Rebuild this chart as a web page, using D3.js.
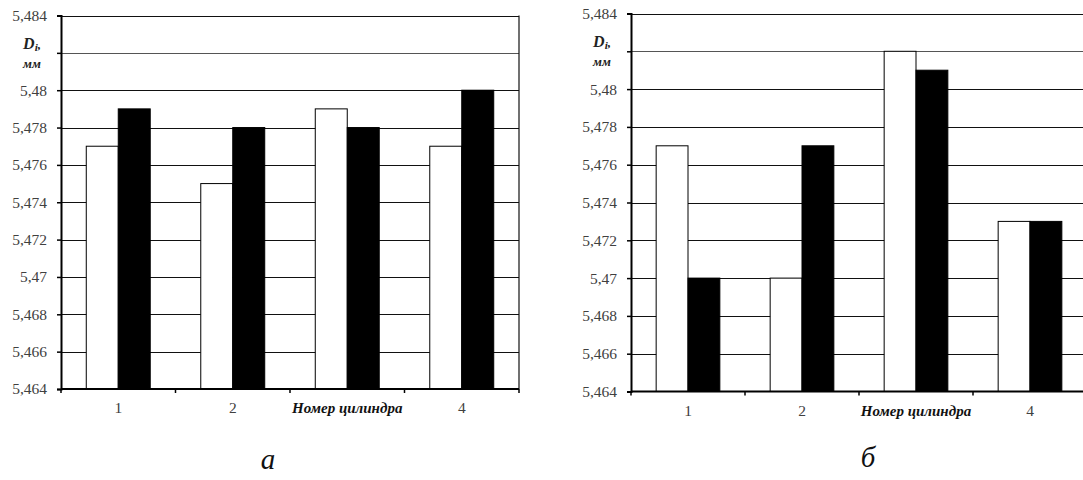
<!DOCTYPE html>
<html>
<head>
<meta charset="utf-8">
<script src="https://cdn.jsdelivr.net/npm/d3@7"></script>
<style>
  html, body { margin: 0; padding: 0; background: #fff; }
  svg { display: block; }
</style>
</head>
<body>
<svg id="chart" width="1083" height="480"></svg>
<script>
// Cylinder numbers (the 3rd slot carries the axis title instead of its number)
const cylinders = ["1", "2", "3", "4"];
const categoryLabels = ["1", "2", "Номер цилиндра", "4"];
const seriesNames = ["white", "black"];

// Panel а: diameter D_i, mm
const panelA_white = [5.477, 5.475, 5.479, 5.477];
const panelA_black = [5.479, 5.478, 5.478, 5.480];

// Panel б: diameter D_i, mm
const panelB_white = [5.477, 5.470, 5.482, 5.473];
const panelB_black = [5.470, 5.477, 5.481, 5.473];

// Y ticks (5,482 is replaced by the axis title)
const yTicks = [5.464, 5.466, 5.468, 5.470, 5.472, 5.474, 5.476, 5.478, 5.480, 5.482, 5.484];
const yTickLabels = ["5,464", "5,466", "5,468", "5,47", "5,472", "5,474", "5,476", "5,478", "5,48", "", "5,484"];
const yDomain = [5.464, 5.484];

const svg = d3.select("#chart");
const serif = "Liberation Serif, Times New Roman, serif";

function panel(opts) {
  const { x0, x1, yTop, yBot, white, black, caption, capX, capY, frameRight, labelOffset } = opts;
  const g = svg.append("g");

  const x = d3.scaleBand().domain(cylinders).range([x0, x1]).padding(0);
  const sub = d3.scaleBand().domain(seriesNames).range([0, x.bandwidth()])
    .paddingInner(0).paddingOuter(0.79);
  const y = d3.scaleLinear().domain(yDomain).range([yBot, yTop]);

  const rows = cylinders.map((c, i) => ({ c, white: white[i], black: black[i] }));

  // horizontal grid
  g.append("g").selectAll("line").data(yTicks.slice(1)).join("line")
    .attr("x1", x0).attr("x2", opts.gridEnd)
    .attr("y1", d => Math.round(y(d)) + 0.5).attr("y2", d => Math.round(y(d)) + 0.5)
    .attr("stroke", d => d === 5.482 ? "#555" : "#111")
    .attr("stroke-width", 1.2);

  // right frame
  if (frameRight) {
    g.append("line").attr("x1", x1).attr("x2", x1).attr("y1", yTop).attr("y2", yBot)
      .attr("stroke", "#111").attr("stroke-width", 1.2);
  }

  // bars
  const grp = g.append("g").selectAll("g").data(rows).join("g")
    .attr("transform", d => `translate(${x(d.c)},0)`);
  grp.selectAll("rect").data(d => seriesNames.map(s => ({ s, v: d[s] }))).join("rect")
    .attr("x", d => sub(d.s))
    .attr("width", sub.bandwidth())
    .attr("y", d => y(d.v))
    .attr("height", d => y(yDomain[0]) - y(d.v))
    .attr("fill", d => d.s === "black" ? "#000" : "#fff")
    .attr("stroke", "#000")
    .attr("stroke-width", 1);

  // y axis
  const yAxis = d3.axisLeft(y).tickValues(yTicks).tickSize(4).tickPadding(opts.tickPad)
    .tickFormat((d, i) => yTickLabels[i]);
  const ya = g.append("g").attr("transform", `translate(${x0},0)`).call(yAxis);
  ya.select(".domain").attr("stroke", "#000").attr("stroke-width", 2);
  ya.selectAll(".tick line").attr("stroke", "#000").attr("stroke-width", 1.5);
  ya.selectAll(".tick text").style("font-family", serif).style("font-size", "15.5px")
    .attr("fill", "#404040");

  // x axis: ticks at category boundaries
  const xa = g.append("g").attr("transform", `translate(0,${yBot})`);
  xa.append("line").attr("x1", x0).attr("x2", opts.gridEnd).attr("y1", 0).attr("y2", 0)
    .attr("stroke", "#000").attr("stroke-width", 2);
  const bounds = cylinders.map(c => x(c)).concat([x1]).filter(v => v <= 1083);
  xa.selectAll("line.t").data(bounds).join("line").attr("class", "t")
    .attr("x1", d => d).attr("x2", d => d).attr("y1", 0).attr("y2", 4)
    .attr("stroke", "#000").attr("stroke-width", 1.5);
  xa.selectAll("text").data(cylinders).join("text")
    .attr("x", d => x(d) + x.bandwidth() / 2)
    .attr("y", labelOffset)
    .attr("text-anchor", "middle")
    .style("font-family", serif)
    .style("font-size", (d, i) => i === 2 ? "15px" : "15.5px")
    .style("font-weight", (d, i) => i === 2 ? "bold" : "normal")
    .style("font-style", (d, i) => i === 2 ? "italic" : "normal")
    .attr("fill", (d, i) => i === 2 ? "#111" : "#404040")
    .text((d, i) => categoryLabels[i]);

  // y title
  const tx = x0 - 29;
  const t1 = g.append("text").attr("x", tx).attr("y", y(5.482) - 4)
    .attr("text-anchor", "middle").style("font-family", serif)
    .style("font-weight", "bold").style("font-style", "italic").style("font-size", "16px")
    .attr("fill", "#222");
  t1.append("tspan").text("D");
  t1.append("tspan").style("font-size", "11px").attr("dy", 2).text("i");
  t1.append("tspan").style("font-size", "13px").attr("dy", -2).text(",");
  g.append("text").attr("x", tx).attr("y", y(5.482) + 15)
    .attr("text-anchor", "middle").style("font-family", serif)
    .style("font-weight", "bold").style("font-style", "italic").style("font-size", "13px")
    .attr("fill", "#222").text("мм");

  // panel caption
  svg.append("text").attr("x", capX).attr("y", capY).attr("text-anchor", "middle")
    .style("font-family", serif).style("font-style", "italic").style("font-size", "29px")
    .attr("fill", "#111").text(caption);
}

panel({ x0: 61, x1: 519, yTop: 15.5, yBot: 389, white: panelA_white, black: panelA_black,
  caption: "а", capX: 268, capY: 469, frameRight: true, gridEnd: 519, labelOffset: 24, tickPad: 10 });
panel({ x0: 631, x1: 1087, yTop: 13.5, yBot: 391.5, white: panelB_white, black: panelB_black,
  caption: "б", capX: 868, capY: 467, frameRight: false, gridEnd: 1083, labelOffset: 24.5, tickPad: 10 });
</script>
</body>
</html>
